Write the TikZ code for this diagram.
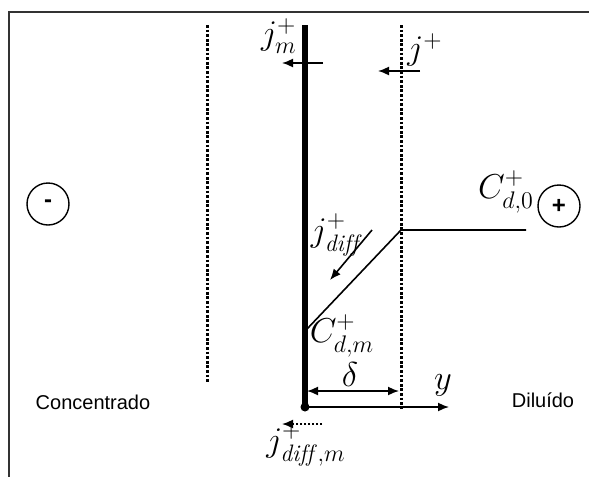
\documentclass[tikz,border=0pt]{standalone}
\usepackage{amsmath,amssymb}
\usepackage{fontspec}
\setsansfont{Liberation Sans}
\usetikzlibrary{arrows.meta}

\begin{document}
\begin{tikzpicture}[x=0.5pt, y=-0.5pt, >={Latex[length=5.5pt,width=4.5pt]},
	every node/.style={font=\fontsize{17}{19}\selectfont},
	dots/.style={line width=1.5pt, dash pattern=on 1.4pt off 0.9pt},
	side/.style={font=\sffamily\fontsize{10}{12}\selectfont},
	pole/.style={draw, circle, line width=0.7pt, minimum size=21pt, inner sep=0pt, font=\sffamily\bfseries\fontsize{12}{12}\selectfont}]
	\useasboundingbox (0,0) rectangle (589,477);
	\draw[line width=1pt, black!80] (589,12) -- (9,12) -- (9,477);
	\coordinate (ltop) at (207,25);
	\coordinate (lbot) at (207,383);
	\coordinate (rtop) at (401,25);
	\coordinate (rbot) at (401,409);
	\coordinate (mtop) at (305,25);
	\node[circle, fill, inner sep=0pt, minimum size=4.5pt] (origin) at (305,407) {};
	\draw[dots] (ltop) -- (lbot);
	\draw[dots] (rtop) -- (rbot);
	\draw[line width=2.6pt] (mtop) -- (origin.center);
	\node[pole] (minus) at (48,204) {-};
	\node[pole] (plus) at (559,206) {+};
	\node[side] (conc) at (93,402) {Concentrado};
	\node[side] (dil) at (543,400) {Diluído};
	\coordinate (jmtail) at (323,63);
	\coordinate (jmhead) at (282,63);
	\draw[->, line width=0.8pt] (jmtail) -- (jmhead);
	\node (jm) at (279,36) {$j^{+}_{m}$};
	\coordinate (jtail) at (420,71);
	\coordinate (jhead) at (378,71);
	\draw[->, line width=0.8pt] (jtail) -- (jhead);
	\node (j) at (425,50) {$j^{+}$};
	\coordinate (c0) at (526,230);
	\coordinate (cb) at (401,230);
	\coordinate (cm) at (307,329);
	\draw[line width=0.8pt] (c0) -- (cb) -- (cm);
	\node (cd0) at (506,192) {$C^{+}_{d,0}$};
	\node (cdm) at (342,336) {$C^{+}_{d,m}$};
	\coordinate (jdtail) at (372,230);
	\coordinate (jdhead) at (330,280);
	\draw[->, line width=0.8pt] (jdtail) -- (jdhead);
	\node (jdiff) at (335,235) {$j^{+}_{\mathit{diff}}$};
	\coordinate (dl) at (307,391);
	\coordinate (dr) at (399,391);
	\draw[<->, line width=0.8pt] (dl) -- (dr);
	\node (delta) at (350,374) {$\delta$};
	\coordinate (yend) at (449,407);
	\draw[->, line width=0.8pt] (origin.center) -- (yend);
	\node (y) at (443,385) {$y$};
	\coordinate (jdmtail) at (322,424);
	\coordinate (jdmhead) at (282,424);
	\draw[->, line width=0.8pt, dash pattern=on 1pt off 1pt] (jdmtail) -- (jdmhead);
	\node (jdiffm) at (306,445) {$j^{+}_{\mathit{diff}\,,m}$};
\end{tikzpicture}
\end{document}
